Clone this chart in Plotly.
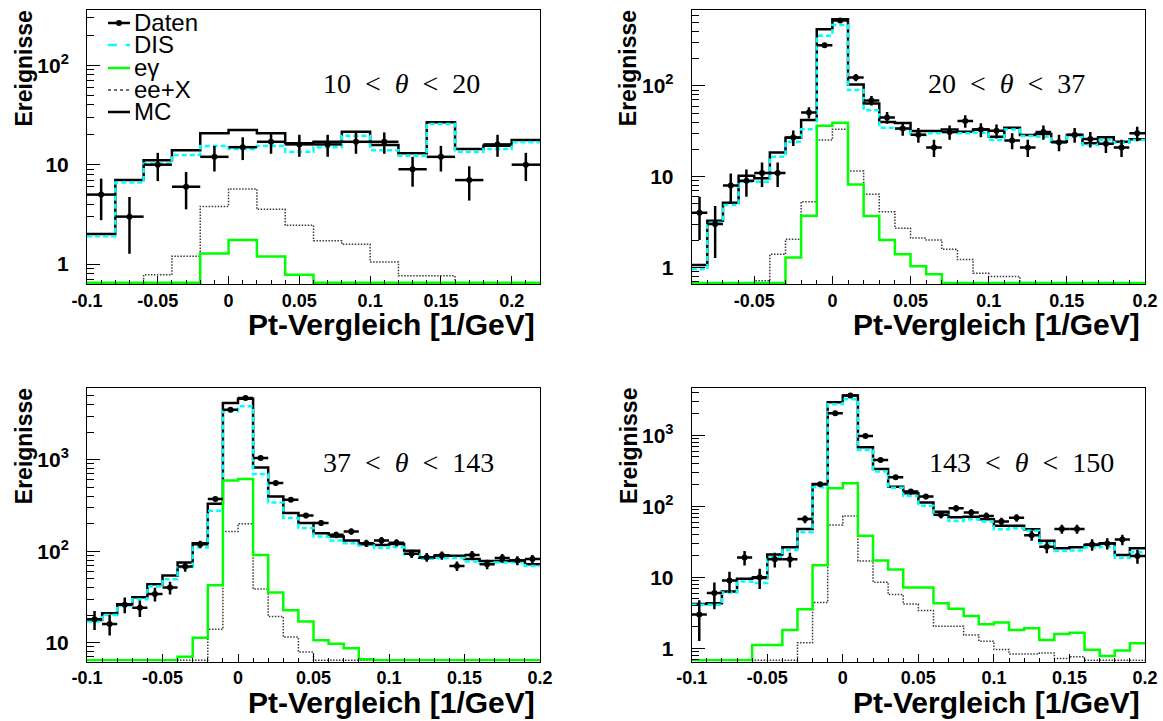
import numpy as np
import plotly.graph_objects as go

W, H = 1163, 721

# ---------------- histogram contents (events per bin) ----------------
# 10 < theta < 20 : 16 bins of 0.02 starting at -0.10
daten_a = [5, 3, 10, 6, 12, 15, 17, 16, 16, 17, 17, 9, 12, 7, 16, 10]
mc_a    = [2.0, 7.0, 11.1, 14.0, 20.7, 22.3, 20.7, 16.4, 17.0, 21.5, 15.8, 13.0, 26.7, 14.4, 15.5, 17.7]
dis_a   = [1.9, 6.6, 10.3, 12.5, 15.4, 14.4, 15.4, 13.5, 15.0, 19.5, 14.0, 12.3, 25.7, 13.5, 14.4, 16.8]
egam_a  = [0, 0, 0, 0, 1.28, 1.75, 1.19, 0.78, 0, 0, 0, 0, 0, 0, 0, 0]
eex_a   = [0, 0, 0.78, 1.2, 3.8, 5.7, 3.55, 2.45, 1.72, 1.58, 1.05, 0.76, 0.76, 0, 0, 0]

# 20 < theta < 37 : 29 bins of 0.01 starting at -0.09
daten_b = [4, 3, 8, 9, 11, 11, 27, 51, 280, 525, 124, 69, 45, 34, 29, 21,
           31, 41, 33, 32, 25, 21, 31, 24, 29, 26, 23, 21, 30]
mc_b    = [1.06, 3.26, 5.15, 10.2, 9.6, 18.4, 26.8, 42, 421, 542, 104, 64, 40, 39, 31.8, 31.8,
           33, 31.3, 33, 27.5, 34.6, 28.8, 29.5, 24.3, 28.8, 23.3, 27.1, 24.3, 25.8]
dis_b   = [0.95, 3.1, 4.86, 8.8, 8.8, 16.6, 24.3, 33.2, 358, 469, 90, 54, 34.6, 33.5, 28.8, 30,
           31, 30, 30.5, 25.3, 33, 28, 27.5, 23.6, 27.5, 22.3, 25.3, 23.6, 25.3]
egam_b  = [0, 0, 0, 0, 0, 0, 1.28, 3.7, 36.4, 39.3, 8.2, 3.68, 2.0, 1.39, 1.03, 0.84,
           0, 0, 0, 0, 0, 0, 0, 0, 0, 0, 0, 0, 0]
eex_b   = [0, 0, 0, 0, 0.71, 1.39, 2.04, 5.3, 25.3, 33.2, 11.5, 6.4, 4.1, 2.7, 2.1, 2.0,
           1.58, 1.22, 0.86, 0.79, 0.79, 0.68, 0, 0, 0, 0, 0, 0, 0]

# 37 < theta < 143 : 30 bins of 0.01 starting at -0.10
daten_c = [18, 16, 26, 24, 34, 40, 68, 119, 371, 3525, 4730, 1042, 556, 365, 245, 203,
           151, 164, 122, 131, 124, 94, 86, 90, 69, 91, 72, 84, 79, 82]
mc_c    = [17.7, 20.9, 26.3, 31.4, 43.5, 54.2, 75.2, 122, 330, 4170, 4650, 824, 397, 261, 203, 157,
           145, 131, 119, 117, 120, 101, 85, 89, 89, 82, 78, 78, 79, 72]
dis_c   = [17, 20.1, 25.4, 29.8, 41, 49.3, 66.8, 110, 277, 3380, 3840, 697, 341, 230, 179, 145,
           131, 122, 115, 108, 111, 92.7, 82.4, 84, 84, 77, 74, 75, 75.5, 69]
egam_c  = [0, 0, 0, 0, 0, 0, 7.0, 11.3, 42.5, 594, 614, 91, 35.3, 22.6, 17, 10.6,
           9.75, 8.7, 6.6, 0, 0, 0, 0, 0, 0, 0, 0, 0, 0, 0]
eex_c   = [0, 0, 0, 0, 0, 0, 0, 0, 14, 164, 199, 38.5, 19.3, 11.5, 7.9, 0,
           0, 0, 0, 0, 0, 0, 0, 0, 0, 0, 0, 0, 0, 0]

# 143 < theta < 150 : 30 bins of 0.01 starting at -0.10
daten_d = [3, 6, 9, 19, 10, 18, 18, 66, 204, 2040, 3620, 979, 450, 256, 161, 137,
           76, 94, 82, 73, 61, 69, 39, 27, 48, 48, 29, 30, 34, 20]
mc_d    = [4.2, 4.3, 6.3, 9.5, 9.8, 21, 26.5, 48, 206, 2915, 3620, 678, 336, 189, 152, 113,
           84, 70, 71.5, 65.6, 53.4, 53.4, 47.4, 32.8, 25.6, 26.5, 28.5, 30.1, 20.6, 25.6]
dis_d   = [4.1, 4.1, 6.1, 8.7, 8.3, 19.1, 24.3, 43, 185, 2730, 3210, 621, 308, 183, 140, 102,
           75.5, 62, 65.6, 60.8, 47.4, 49, 45.4, 30.1, 23.5, 23.9, 26.2, 27, 18.9, 22.5]
egam_d  = [0, 0, 0, 0, 1.11, 1.11, 1.81, 3.54, 14.8, 179, 211, 38.6, 17.3, 12.9, 7.2, 7.2,
           4.3, 3.6, 2.85, 2.18, 2.3, 1.81, 1.91, 1.31, 1.59, 1.66, 0.95, 0.78, 0.93, 1.18]
eex_d   = [0, 0, 0, 0, 0.68, 0.68, 0.68, 1.2, 4.4, 54.6, 73, 17, 8.5, 5.7, 4.2, 3.4,
           2.05, 2.05, 1.54, 1.26, 0.96, 0.83, 0.83, 0.86, 0.72, 0.76, 0, 0, 0, 0]

# bin layout: (first edge, bin width)
bins_a = (-0.10, 0.02)
bins_b = (-0.09, 0.01)
bins_c = (-0.10, 0.01)
bins_d = (-0.10, 0.01)

labels = ["10 &lt; <i>θ</i> &lt; 20", "20 &lt; <i>θ</i> &lt; 37",
          "37 &lt; <i>θ</i> &lt; 143", "143 &lt; <i>θ</i> &lt; 150"]

x_tickvals = [-0.1, -0.05, 0, 0.05, 0.1, 0.15, 0.2]
x_ticktext = ["-0.1", "-0.05", "0", "0.05", "0.1", "0.15", "0.2"]
y_tickvals = [1, 10, 100, 1000]
y_ticktext = ["1", "10", "10<sup>2</sup>", "10<sup>3</sup>"]

x_title = "Pt-Vergleich [1/GeV]"
y_title = "Ereignisse"
legend_names = ["Daten", "DIS", "eγ", "ee+X", "MC"]

# ---------------- pad geometry (pixels) ----------------
def px(x):
    return x / W


def py(y):
    return 1 - y / H


def bold(s):
    return "<b>" + s + "</b>"


pads = [
    dict(hist=(daten_a, mc_a, dis_a, egam_a, eex_a), bins=bins_a,
         box=(87, 540, 10, 284), xr=[-0.10, 0.22], yr=[-0.201, 2.557], lab=(402, 84)),
    dict(hist=(daten_b, mc_b, dis_b, egam_b, eex_b), bins=bins_b,
         box=(691.7, 1145, 10, 284.3), xr=[-0.09, 0.20], yr=[-0.187, 2.837], lab=(1006, 84)),
    dict(hist=(daten_c, mc_c, dis_c, egam_c, eex_c), bins=bins_c,
         box=(87, 540, 387.7, 661.5), xr=[-0.10, 0.20], yr=[0.794, 3.787], lab=(408, 462)),
    dict(hist=(daten_d, mc_d, dis_d, egam_d, eex_d), bins=bins_d,
         box=(691.7, 1145, 387.7, 661.5), xr=[-0.10, 0.20], yr=[-0.186, 3.670], lab=(1021, 462)),
]

STY_MC = dict(color="black", width=2.5)
STY_DIS = dict(color="#00ffff", width=2.5, dash="5px,3px")
STY_EG = dict(color="#00ff00", width=2.5)
STY_EEX = dict(color="#3a3a3a", width=1.5, dash="1.5px,1.5px")

fig = go.Figure()
layout = dict(width=W, height=H, margin=dict(l=0, r=0, t=0, b=0, pad=0, autoexpand=False),
              paper_bgcolor="white", plot_bgcolor="white", showlegend=False)
annotations = []
shapes = []

for i, p in enumerate(pads):
    k = "" if i == 0 else str(i + 1)
    xa, ya = "x" + k, "y" + k
    daten, mc, dis, eg, eex = [np.asarray(v, dtype=float) for v in p["hist"]]
    lo, bw = p["bins"]
    n = len(daten)
    edges = lo + bw * np.arange(n + 1)
    centers = edges[:-1] + bw / 2
    x0, x1, y0, y1 = p["box"]
    ylo, yhi = p["yr"]
    # empty bins sit on the lower frame edge, as in a log-scale histogram
    floor = 10 ** (ylo + 1.2 * (yhi - ylo) / (y1 - y0))

    def step(vals, style):
        v = np.where(vals > floor, vals, floor)
        fig.add_trace(go.Scatter(x=edges, y=np.r_[v, v[-1]], mode="lines",
                                 line=dict(shape="hv", **style),
                                 xaxis=xa, yaxis=ya, hoverinfo="skip"))

    step(mc, STY_MC)
    step(dis, STY_DIS)
    step(eex, STY_EEX)
    step(eg, STY_EG)
    fig.add_trace(go.Scatter(
        x=centers, y=daten, mode="markers",
        marker=dict(size=6, color="black", symbol="circle"),
        error_y=dict(type="data", array=np.sqrt(daten), color="black", thickness=2.5, width=0),
        error_x=dict(type="constant", value=bw / 2, color="black", thickness=2.5, width=0),
        xaxis=xa, yaxis=ya))

    xminor = [round(v, 3) for v in np.arange(-0.1, 0.2201, 0.01)]
    dec = range(int(np.floor(ylo)), int(np.ceil(yhi)) + 1)
    yminor = [m * 10 ** d for d in dec for m in range(2, 10)]
    tv = [v for v in y_tickvals if ylo <= np.log10(v) <= yhi]
    tt = [bold(y_ticktext[y_tickvals.index(v)]) for v in tv]

    layout["xaxis" + k] = dict(
        domain=[px(x0), px(x1)], range=p["xr"], anchor=ya, automargin=False,
        showline=True, linecolor="black", linewidth=1, mirror=True,
        showgrid=False, zeroline=False,
        ticks="inside", ticklen=8, tickwidth=1, tickcolor="black",
        tickmode="array", tickvals=x_tickvals, ticktext=[bold(t) for t in x_ticktext],
        tickfont=dict(family="Liberation Sans", size=18, color="black"),
        minor=dict(ticks="inside", ticklen=4, tickwidth=1, tickcolor="black",
                   tickmode="array", tickvals=xminor, showgrid=False),
    )
    layout["yaxis" + k] = dict(
        domain=[py(y1), py(y0)], type="log", range=[ylo, yhi], anchor=xa, automargin=False,
        showline=True, linecolor="black", linewidth=1, mirror=True,
        showgrid=False, zeroline=False,
        ticks="inside", ticklen=13, tickwidth=1, tickcolor="black",
        tickmode="array", tickvals=tv, ticktext=tt, ticklabelstandoff=13,
        tickfont=dict(family="Liberation Sans", size=21, color="black"),
        minor=dict(ticks="inside", ticklen=7, tickwidth=1, tickcolor="black",
                   tickmode="array", tickvals=yminor, showgrid=False),
    )

    # axis titles, pad label
    annotations.append(dict(text=bold(x_title), xref="paper", yref="paper",
                            x=px(x1 - 3), y=py(y1 + 40.5), xanchor="right", yanchor="middle",
                            showarrow=False,
                            font=dict(family="Liberation Sans", size=30, color="black")))
    annotations.append(dict(text=bold(y_title), xref="paper", yref="paper",
                            x=px(x0 - 63), y=py(y0 + 58.5), xanchor="center", yanchor="middle",
                            textangle=-90, showarrow=False,
                            font=dict(family="Liberation Sans", size=23, color="black")))
    lx, ly = p["lab"]
    annotations.append(dict(text=labels[i].replace(" ", "\u2002"), xref="paper", yref="paper",
                            x=px(lx), y=py(ly), xanchor="center", yanchor="middle",
                            showarrow=False,
                            font=dict(family="Liberation Serif", size=28, color="black")))

# legend inside the first pad
leg_styles = [STY_MC, STY_DIS, STY_EG, STY_EEX, STY_MC]
leg_y = [23, 45, 68, 90, 112]
for name, st, yy in zip(legend_names, leg_styles, leg_y):
    line = dict(color=st["color"], width=st["width"])
    if "dash" in st:
        line["dash"] = "dot" if st is STY_EEX else "dash"
    shapes.append(dict(type="line", xref="paper", yref="paper",
                       x0=px(108), x1=px(130), y0=py(yy), y1=py(yy), line=line))
    annotations.append(dict(text=name, xref="paper", yref="paper",
                            x=px(132), y=py(yy), xanchor="left", yanchor="middle",
                            showarrow=False,
                            font=dict(family="Liberation Sans", size=24, color="black")))
shapes.append(dict(type="circle", xref="paper", yref="paper",
                   x0=px(116), x1=px(122), y0=py(26), y1=py(20),
                   fillcolor="black", line=dict(color="black", width=0)))

layout["annotations"] = annotations
layout["shapes"] = shapes
fig.update_layout(**layout)
fig.write_html("out.html")
